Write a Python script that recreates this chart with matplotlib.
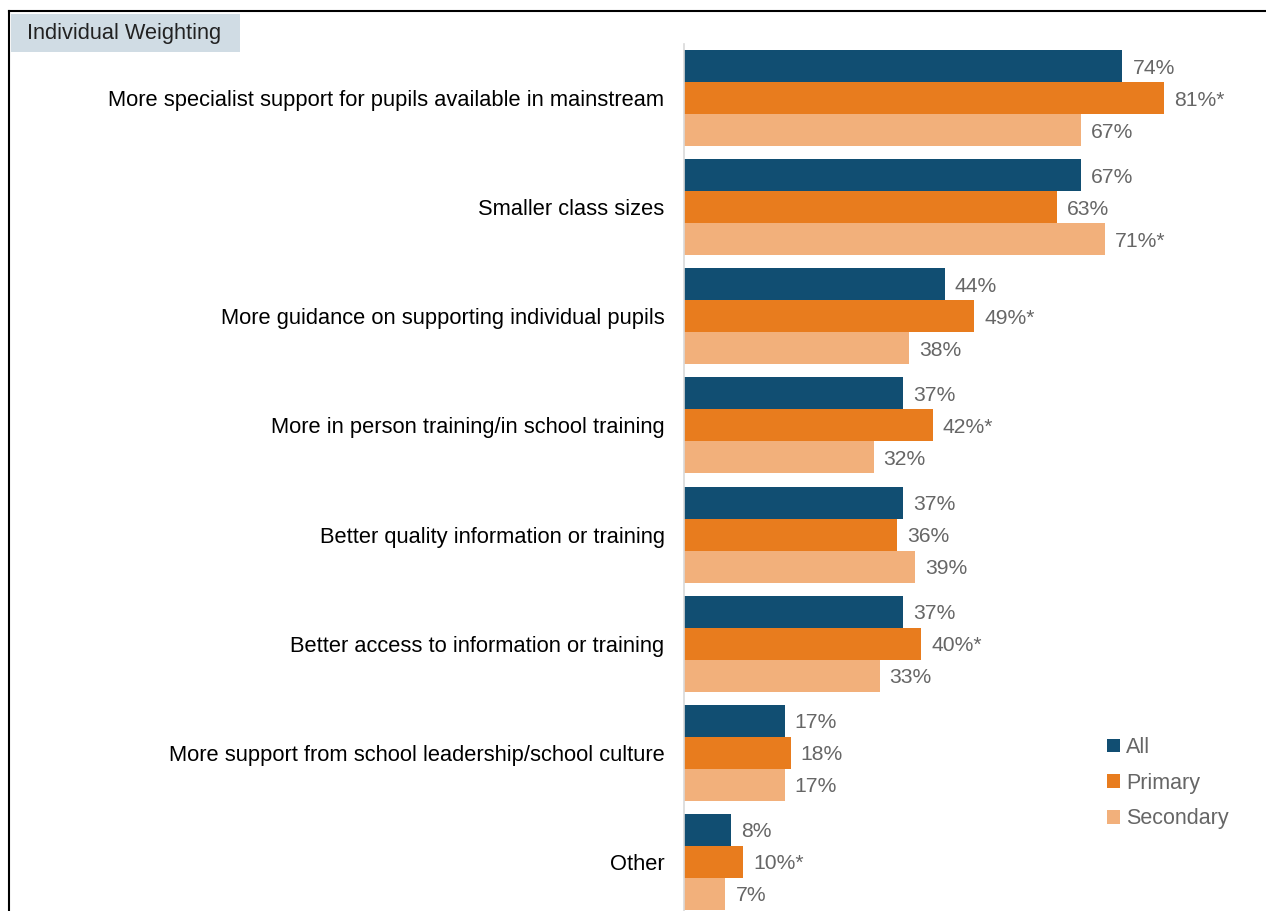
import numpy as np
import matplotlib
matplotlib.use("Agg")
import matplotlib.pyplot as plt
from matplotlib.patches import Rectangle

plt.rcParams['font.family'] = ['Liberation Sans', 'DejaVu Sans']

#%% Data
categories = [
    "More specialist support for pupils available in mainstream",
    "Smaller class sizes",
    "More guidance on supporting individual pupils",
    "More in person training/in school training",
    "Better quality information or training",
    "Better access to information or training",
    "More support from school leadership/school culture",
    "Other",
]
series_names = ["All", "Primary", "Secondary"]
all_vals = [74, 67, 44, 37, 37, 37, 17, 8]
primary_vals = [81, 63, 49, 42, 36, 40, 18, 10]
secondary_vals = [67, 71, 38, 32, 39, 33, 17, 7]
primary_sig = [True, False, True, True, False, True, False, True]
secondary_sig = [False, True, False, False, False, False, False, False]

colors = ["#114e72", "#e87c1e", "#f2b07b"]
label_grey = "#666666"

#%% Figure
W, H = 1266, 911
fig = plt.figure(figsize=(W / 100, H / 100), dpi=100)

# outer frame (top and left lines)
fig.add_artist(plt.Line2D([9 / W, 9 / W], [0, 1 - 11 / H], color="black", lw=1.5))
fig.add_artist(plt.Line2D([9 / W, 1], [1 - 11 / H, 1 - 11 / H], color="black", lw=1.5))

# title box
fig.add_artist(Rectangle((11 / W, 1 - 52 / H), (240 - 11) / W, (52 - 14) / H,
                         facecolor="#d0dce4", edgecolor="none"))
fig.text(27 / W, 1 - 34 / H, "Individual Weighting", fontsize=15.7, color="#222222",
         va="center", ha="left")

ax_left = 684 / W
ax = fig.add_axes([ax_left, 0, 1 - ax_left, (911 - 44) / H])
px_per_pct = 5.925
ax.set_xlim(0, (W - 684) / px_per_pct)
pitch = 109.14
ax.set_ylim((911 - 98) / pitch, -(98 - 44) / pitch)

y = np.arange(len(categories))
bh = 32 / pitch
vals = [all_vals, primary_vals, secondary_vals]
sigs = [[False] * len(categories), primary_sig, secondary_sig]
for k, (name, v, sig) in enumerate(zip(series_names, vals, sigs)):
    yy = y + (k - 1) * bh
    ax.barh(yy, v, height=bh, color=colors[k], label=name, edgecolor="none")
    for yi, vi, si in zip(yy, v, sig):
        ax.text(vi + 10 / px_per_pct, yi, f"{vi}%" + ("*" if si else ""),
                va="center_baseline", ha="left", fontsize=15.2, color=label_grey)

ax.set_yticks(y)
ax.set_yticklabels(categories, fontsize=15.75, color="black")
ax.tick_params(axis="y", length=0, pad=14)
ax.set_xticks([])
for s in ["top", "right", "bottom"]:
    ax.spines[s].set_visible(False)
ax.spines["left"].set_color("#d9d9d9")
ax.spines["left"].set_linewidth(1.2)

leg = ax.legend(loc="upper left", bbox_to_anchor=((1107 - 684) / (W - 684), (911 - 737) / (911 - 44)),
                frameon=False, fontsize=15.5, handlelength=0.6, handleheight=0.6,
                handletextpad=0.3, labelspacing=0.68, borderpad=0, borderaxespad=0)
for t in leg.get_texts():
    t.set_color(label_grey)

fig.savefig("out.png", dpi=100)
